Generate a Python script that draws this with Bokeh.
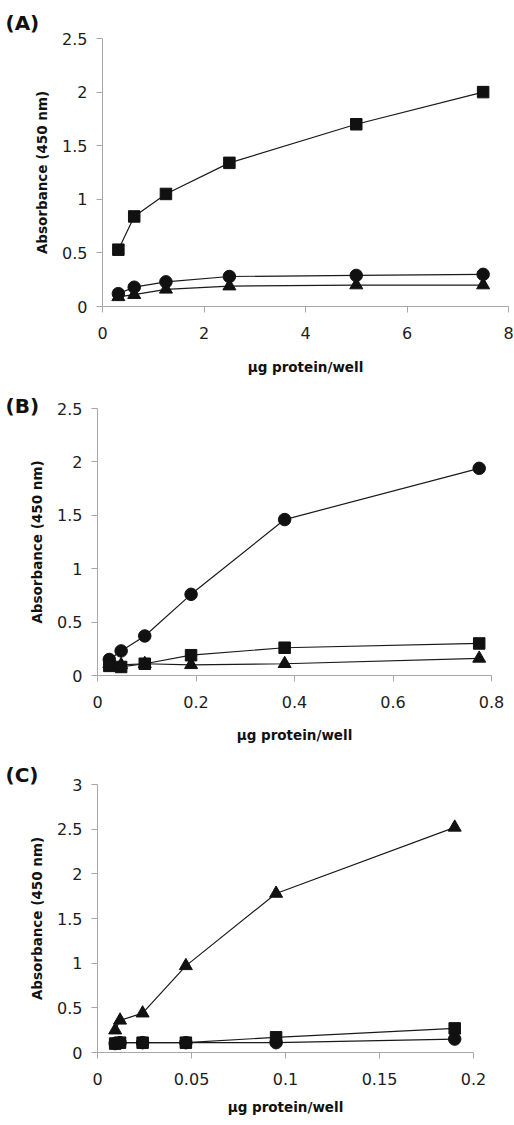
from bokeh.plotting import figure
from bokeh.models import Range1d, FixedTicker
from bokeh.embed import file_html
from bokeh.resources import INLINE

# ---------------- data ----------------
# Panel A
a_x = [0.3125, 0.625, 1.25, 2.5, 5, 7.5]
a_square = [0.53, 0.84, 1.05, 1.34, 1.70, 2.00]
a_circle = [0.12, 0.18, 0.23, 0.28, 0.29, 0.30]
a_triangle = [0.09, 0.11, 0.16, 0.19, 0.20, 0.20]
a_xticks = [0, 2, 4, 6, 8]
a_xlabels = ["0", "2", "4", "6", "8"]
a_yticks = [0, 0.5, 1, 1.5, 2, 2.5]
a_ylabels = ["0", "0.5", "1", "1.5", "2", "2.5"]

# Panel B
b_x = [0.024, 0.048, 0.096, 0.19, 0.38, 0.775]
b_circle = [0.15, 0.23, 0.37, 0.76, 1.46, 1.94]
b_square = [0.09, 0.08, 0.11, 0.19, 0.26, 0.30]
b_triangle = [0.11, 0.10, 0.11, 0.10, 0.11, 0.16]
b_xticks = [0, 0.2, 0.4, 0.6, 0.8]
b_xlabels = ["0", "0.2", "0.4", "0.6", "0.8"]
b_yticks = [0, 0.5, 1, 1.5, 2, 2.5]
b_ylabels = ["0", "0.5", "1", "1.5", "2", "2.5"]

# Panel C
c_x = [0.0094, 0.012, 0.024, 0.047, 0.095, 0.19]
c_triangle = [0.25, 0.36, 0.44, 0.97, 1.78, 2.52]
c_square = [0.10, 0.11, 0.11, 0.11, 0.17, 0.27]
c_circle = [0.10, 0.11, 0.11, 0.11, 0.11, 0.15]
c_xticks = [0, 0.05, 0.1, 0.15, 0.2]
c_xlabels = ["0", "0.05", "0.1", "0.15", "0.2"]
c_yticks = [0, 0.5, 1, 1.5, 2, 2.5, 3]
c_ylabels = ["0", "0.5", "1", "1.5", "2", "2.5", "3"]

panel_tags = ["(A)", "(B)", "(C)"]
x_title = "\u00b5g protein/well"
y_title = "Absorbance (450 nm)"

FONT = "DejaVu Sans"
AXIS_GREY = "#a8a8a8"
MARK = {"square": 11.5, "circle": 12.5, "triangle": 13}


def make_panel(tag, xs, series, xmax, ymax, xticks, xlabels, yticks, ylabels,
               height, b_left, b_right, b_top, b_bottom, title_standoff,
               tag_offset, tag_standoff):
    p = figure(width=514, height=height, output_backend="svg", toolbar_location=None,
               x_range=Range1d(0, xmax), y_range=Range1d(0, ymax),
               min_border_left=b_left, min_border_right=b_right,
               min_border_top=b_top, min_border_bottom=b_bottom)
    p.outline_line_color = None
    p.xgrid.visible = False
    p.ygrid.visible = False
    p.background_fill_color = "white"
    p.border_fill_color = "white"

    p.title.text = tag
    p.title.align = "left"
    p.title.offset = tag_offset
    p.title.standoff = tag_standoff
    p.title.text_font = FONT
    p.title.text_font_size = "20px"
    p.title.text_font_style = "bold"
    p.title.text_color = "#111111"

    for ax, ticks, labels in ((p.xaxis[0], xticks, xlabels), (p.yaxis[0], yticks, ylabels)):
        ax.ticker = FixedTicker(ticks=ticks, minor_ticks=[])
        ax.major_label_overrides = {t: l for t, l in zip(ticks, labels)}
        ax.axis_line_color = AXIS_GREY
        ax.axis_line_width = 1
        ax.major_tick_line_color = AXIS_GREY
        ax.major_tick_out = 6
        ax.major_tick_in = 0
        ax.minor_tick_line_color = None
        ax.major_label_text_font = FONT
        ax.major_label_text_font_size = "16px"
        ax.major_label_text_color = "#1c1c1c"
        ax.axis_label_text_font = FONT
        ax.axis_label_text_font_size = "13.5px"
        ax.axis_label_text_font_style = "bold"
        ax.axis_label_text_color = "#111111"

    p.xaxis.axis_label = x_title
    p.yaxis.axis_label = y_title
    p.xaxis.major_label_standoff = 14
    p.yaxis.major_label_standoff = 9
    p.xaxis.axis_label_standoff = title_standoff
    p.yaxis.axis_label_standoff = 9

    for ys, marker in series:
        p.line(xs, ys, line_color="#1a1a1a", line_width=1.2)
    for ys, marker in series:
        p.scatter(xs, ys, marker=marker, size=MARK[marker],
                  fill_color="#111111", line_color="#111111")
    return p


pA = make_panel(panel_tags[0], a_x,
                [(a_triangle, "triangle"), (a_circle, "circle"), (a_square, "square")],
                8, 2.5, a_xticks, a_xlabels, a_yticks, a_ylabels,
                height=385, b_left=102, b_right=6, b_top=38, b_bottom=79,
                title_standoff=17, tag_offset=-97, tag_standoff=8)

pB = make_panel(panel_tags[1], b_x,
                [(b_triangle, "triangle"), (b_circle, "circle"), (b_square, "square")],
                0.8, 2.5, b_xticks, b_xlabels, b_yticks, b_ylabels,
                height=375, b_left=97, b_right=23, b_top=23, b_bottom=85,
                title_standoff=16, tag_offset=-92, tag_standoff=-19)

pC = make_panel(panel_tags[2], c_x,
                [(c_circle, "circle"), (c_square, "square"), (c_triangle, "triangle")],
                0.2, 3, c_xticks, c_xlabels, c_yticks, c_ylabels,
                height=362, b_left=97, b_right=41, b_top=24, b_bottom=70,
                title_standoff=11, tag_offset=-92, tag_standoff=-4)

open("out.html", "w").write(file_html([pA, pB, pC], INLINE))
